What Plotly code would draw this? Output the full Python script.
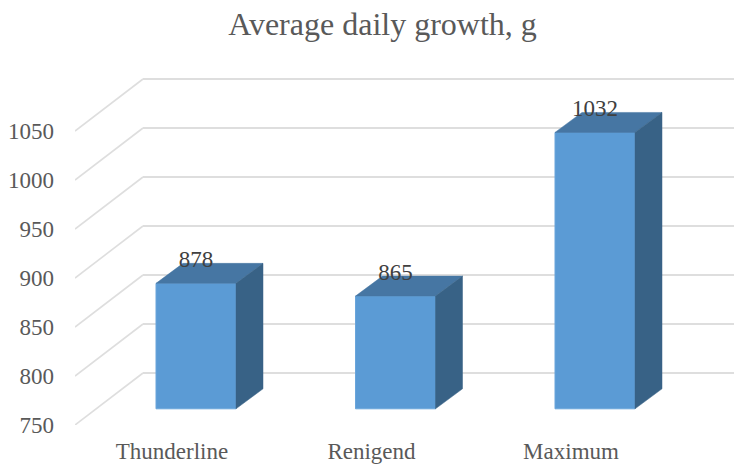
import plotly.graph_objects as go

categories = ["Thunderline", "Renigend", "Maximum"]
values = [878, 865, 1032]
y_ticks = [750, 800, 850, 900, 950, 1000, 1050]
title = "Average daily growth, g"

W, H = 734, 466
M_L, M_R, M_T, M_B = 75, 0, 70, 41
PX_PER_X = 199.5
PX_PER_Y = 0.98
x0 = -97 / PX_PER_X
x1 = x0 + (W - M_L - M_R) / PX_PER_X
y0 = 750
y1 = y0 + (H - M_T - M_B) / PX_PER_Y

# oblique projection: converts pixel shifts into data shifts
def dx(px):
    return px / PX_PER_X
def dy(px):
    return px / PX_PER_Y

WALL_DX, WALL_DY = dx(68), dy(52)
BAR_SHIFT_X, BAR_SHIFT_Y = dx(24), dy(16.2)
BAR_W = dx(80)
DEPTH_X, DEPTH_Y = dx(27), dy(20)

FRONT, TOP, SIDE = "#5B9BD5", "#4676A3", "#386286"
GRID = "#DEDEDE"
TEXT = "#595959"
FONT = "Liberation Serif"

fig = go.Figure()

xs = [i + BAR_SHIFT_X for i in range(len(categories))]
base = y0 + BAR_SHIFT_Y
tops = [v - y0 + base for v in values]

fig.add_trace(go.Bar(
    x=xs, y=[v - y0 for v in values], base=base, width=BAR_W,
    marker=dict(color=FRONT, line=dict(color="#6AA5DB", width=1)),
    hoverinfo="skip", showlegend=False,
))

for xc, t in zip(xs, tops):
    l, r = xc - BAR_W / 2, xc + BAR_W / 2
    fig.add_trace(go.Scatter(
        x=[l, r, r + DEPTH_X, l + DEPTH_X, l],
        y=[t, t, t + DEPTH_Y, t + DEPTH_Y, t],
        mode="lines", fill="toself", fillcolor=TOP,
        line=dict(color=TOP, width=0.5), hoverinfo="skip", showlegend=False,
    ))
    fig.add_trace(go.Scatter(
        x=[r, r + DEPTH_X, r + DEPTH_X, r, r],
        y=[t, t + DEPTH_Y, base + DEPTH_Y, base, t],
        mode="lines", fill="toself", fillcolor=SIDE,
        line=dict(color=SIDE, width=0.5), hoverinfo="skip", showlegend=False,
    ))

fig.add_trace(go.Scatter(
    x=xs, y=[t + dy(22) for t in tops], mode="text",
    text=[str(v) for v in values],
    textposition="middle center",
    textfont=dict(family=FONT, size=23, color="#404040"),
    hoverinfo="skip", showlegend=False,
))

shapes = []
for v in y_ticks:
    shapes.append(dict(type="line", layer="below", xref="x", yref="y",
                       x0=x0, y0=v, x1=x0 + WALL_DX, y1=v + WALL_DY,
                       line=dict(color=GRID, width=1.6)))
    shapes.append(dict(type="line", layer="below", xref="x", yref="y",
                       x0=x0 + WALL_DX, y0=v + WALL_DY, x1=x1, y1=v + WALL_DY,
                       line=dict(color=GRID, width=2)))

fig.update_layout(
    width=W, height=H, autosize=False,
    margin=dict(l=M_L, r=M_R, t=M_T, b=M_B),
    paper_bgcolor="white", plot_bgcolor="white",
    showlegend=False,
    shapes=shapes,
    title=dict(text=title, x=382.5 / W, xanchor="center", xref="container",
               y=1 - 24 / H, yanchor="middle", yref="container",
               font=dict(family=FONT, size=32, color=TEXT)),
    xaxis=dict(range=[x0, x1], tickmode="array",
               tickvals=list(range(len(categories))), ticktext=categories,
               showgrid=False, zeroline=False, showline=False, ticks="",
               ticklabelstandoff=10,
               tickfont=dict(family=FONT, size=23, color=TEXT)),
    yaxis=dict(range=[y0, y1], tickmode="array", tickvals=y_ticks,
               showgrid=False, zeroline=False, showline=False, ticks="",
               ticklabelstandoff=20,
               tickfont=dict(family=FONT, size=23, color=TEXT)),
)

fig.write_html("out.html", config={"displayModeBar": False},
               post_script="document.body.style.margin='0';document.body.style.overflow='hidden';")
